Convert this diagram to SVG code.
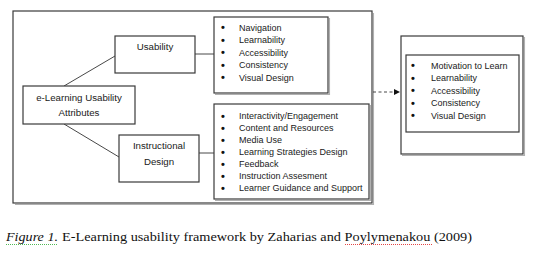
<svg xmlns="http://www.w3.org/2000/svg" width="539" height="259" viewBox="0 0 539 259">
<defs>
<style>
.box{fill:#fff;stroke:#3a3a3a;stroke-width:1.2}
.sh{fill:none;stroke:#b0b0b0;stroke-width:1.1}
.lbl{font-family:"Liberation Sans",Arial,sans-serif;font-size:9.7px;fill:#1a1a1a;text-anchor:middle}
.li{font-family:"Liberation Sans",Arial,sans-serif;font-size:9px;fill:#1a1a1a}
.bul{font-family:"Liberation Sans",Arial,sans-serif;font-size:11px;font-weight:bold;fill:#111;text-anchor:middle}
.con{fill:none;stroke:#333;stroke-width:0.9}
.cap{font-family:"Liberation Serif","Times New Roman",serif;font-size:13.5px;fill:#111}
</style>
<marker id="ah" viewBox="0 0 6 6" refX="6" refY="3" markerWidth="6" markerHeight="6" markerUnits="userSpaceOnUse" orient="auto">
<path d="M0,0 L6,3 L0,6 Z" fill="#111"/>
</marker>
</defs>

<g id="frame-left">
<path class="sh" d="M373.5,13 V204.5 H15"/>
<rect class="box" x="13" y="11" width="359" height="192"/>
</g>

<g id="frame-right">
<path class="sh" d="M524.5,37 V155.5 H402"/>
<rect class="box" x="401" y="36" width="122" height="118"/>
</g>

<g id="connectors">
<line class="con" x1="64" y1="86" x2="115" y2="56"/>
<line class="con" x1="64" y1="124" x2="119" y2="157"/>
<line class="con" x1="195" y1="54" x2="214" y2="54"/>
<line class="con" x1="199" y1="153" x2="214" y2="153"/>
<line class="con" x1="373" y1="92" x2="400" y2="92" stroke-dasharray="3,2.5" marker-end="url(#ah)"/>
</g>

<g id="node-attributes">
<rect class="box" x="23" y="86" width="112" height="38"/>
<text class="lbl" x="79" y="101">e-Learning Usability</text>
<text class="lbl" x="79" y="116">Attributes</text>
</g>

<g id="node-usability">
<rect class="box" x="115" y="36" width="80" height="37"/>
<text class="lbl" x="155" y="50">Usability</text>
</g>

<g id="node-instructional">
<rect class="box" x="119" y="135" width="80" height="47"/>
<text class="lbl" x="159" y="149">Instructional</text>
<text class="lbl" x="159" y="165">Design</text>
</g>

<g id="list-usability">
<path class="sh" d="M329.5,18 V94.5 H215"/>
<rect class="box" x="214" y="17" width="114" height="76"/>
<text class="bul" x="223" y="31">•</text><text class="li" x="239" y="30.5">Navigation</text>
<text class="bul" x="223" y="43.5">•</text><text class="li" x="239" y="43">Learnability</text>
<text class="bul" x="223" y="56">•</text><text class="li" x="239" y="55.5">Accessibility</text>
<text class="bul" x="223" y="68.5">•</text><text class="li" x="239" y="68">Consistency</text>
<text class="bul" x="223" y="81">•</text><text class="li" x="239" y="80.5">Visual Design</text>
</g>

<g id="list-instructional">
<path class="sh" d="M370.5,105 V200.5 H215"/>
<rect class="box" x="214" y="104" width="155" height="95"/>
<text class="bul" x="223" y="119.5">•</text><text class="li" x="239" y="119">Interactivity/Engagement</text>
<text class="bul" x="223" y="131.5">•</text><text class="li" x="239" y="131">Content and Resources</text>
<text class="bul" x="223" y="143.5">•</text><text class="li" x="239" y="143">Media Use</text>
<text class="bul" x="223" y="155.5">•</text><text class="li" x="239" y="155">Learning Strategies Design</text>
<text class="bul" x="223" y="167.5">•</text><text class="li" x="239" y="167">Feedback</text>
<text class="bul" x="223" y="179.5">•</text><text class="li" x="239" y="179">Instruction Assesment</text>
<text class="bul" x="223" y="191.5">•</text><text class="li" x="239" y="191">Learner Guidance and Support</text>
</g>

<g id="list-outcome">
<rect class="box" x="406" y="55" width="113" height="77"/>
<text class="bul" x="413" y="69">•</text><text class="li" x="431" y="68.5">Motivation to Learn</text>
<text class="bul" x="413" y="81.5">•</text><text class="li" x="431" y="81">Learnability</text>
<text class="bul" x="413" y="94">•</text><text class="li" x="431" y="93.5">Accessibility</text>
<text class="bul" x="413" y="106.5">•</text><text class="li" x="431" y="106">Consistency</text>
<text class="bul" x="413" y="119">•</text><text class="li" x="431" y="118.5">Visual Design</text>
</g>

<g id="caption">
<text class="cap" x="6" y="241" font-style="italic" textLength="52" lengthAdjust="spacingAndGlyphs">Figure 1.</text>
<text class="cap" x="62" y="241" textLength="410" lengthAdjust="spacingAndGlyphs">E-Learning usability framework by Zaharias and Poylymenakou (2009)</text>
<line x1="6" y1="244.5" x2="58" y2="244.5" stroke="#3cb043" stroke-width="0.9" stroke-dasharray="1,1"/>
<line x1="345" y1="244.5" x2="432" y2="244.5" stroke="#e03030" stroke-width="0.9" stroke-dasharray="1,1"/>
</g>
</svg>
